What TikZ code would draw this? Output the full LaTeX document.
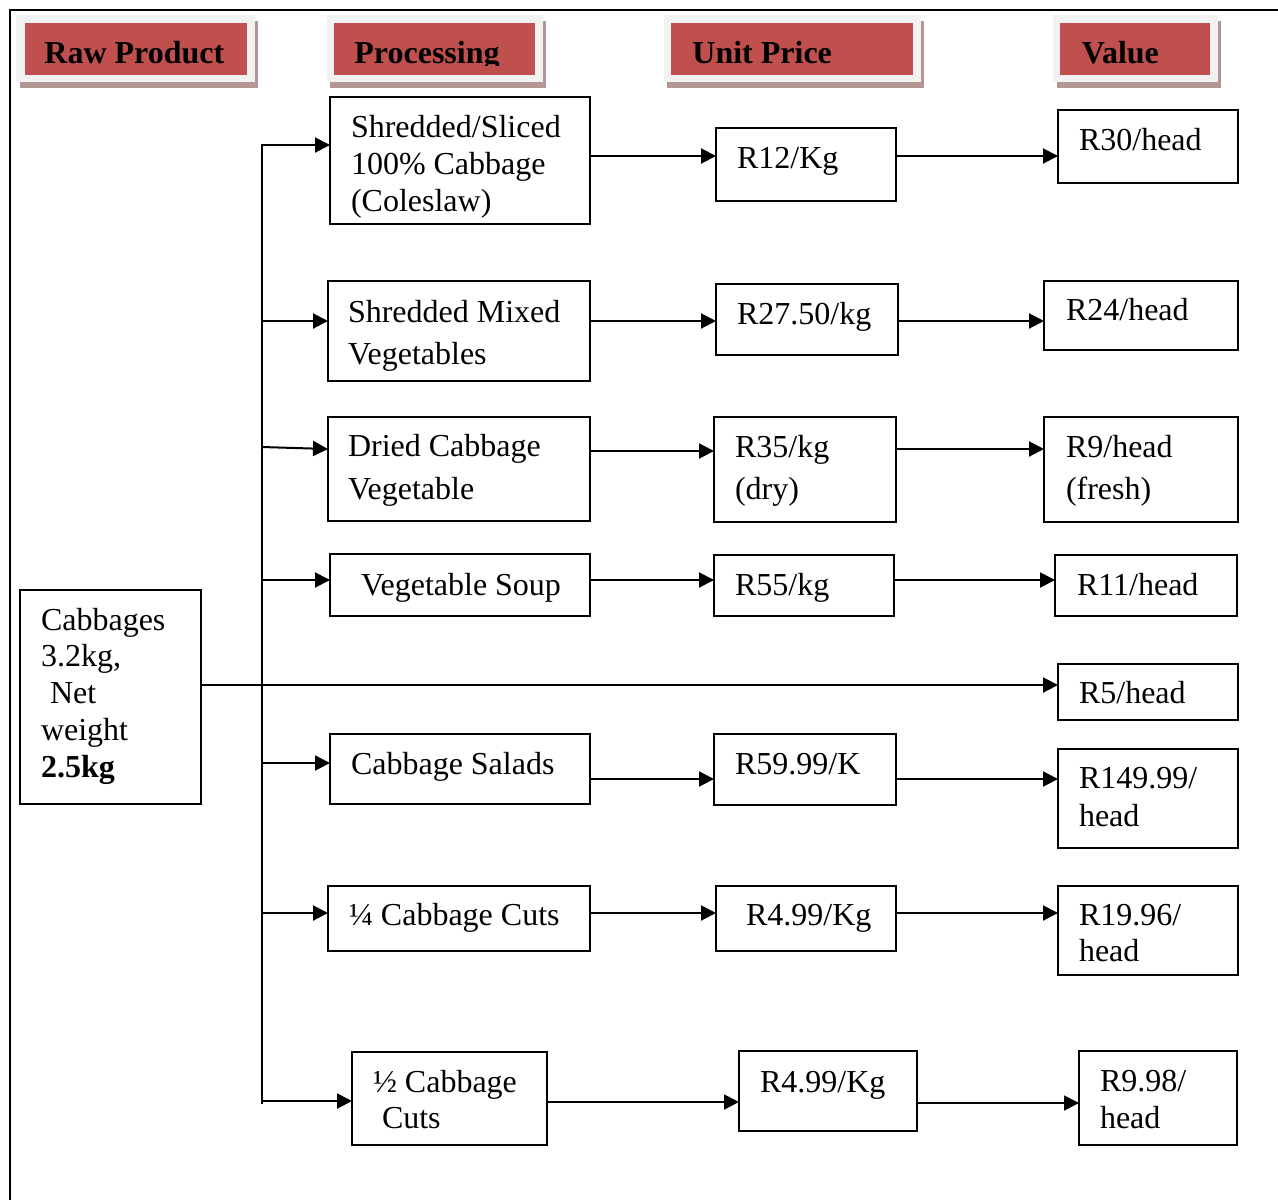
\documentclass[tikz,border=0pt]{standalone}
\usepackage{fontspec}
\setmainfont{Liberation Serif}
\usetikzlibrary{arrows.meta}
\definecolor{hred}{HTML}{C0504D}
\definecolor{hgray}{HTML}{F2F2F2}
\definecolor{hshadow}{RGB}{178,150,147}
% #1 style, #2 name, #3 x,y (px), #4 width px, #5 height px, #6 left pad px, #7 first baseline px, #8 baselineskip pt, #9 text
\newcommand\bx[9]{%
\node[#1] (#2) at (#3) {\parbox[t][\dimexpr #5pt/2\relax][t]{\dimexpr #4pt/2\relax}{\raggedright\leftskip=\dimexpr #6pt/2\relax\relax\setlength{\baselineskip}{#8pt}\rule{0pt}{\dimexpr #7pt/2\relax}#9}};}
\begin{document}
\begin{tikzpicture}[x=0.5pt,y=-0.5pt,
  boxst/.style={draw, line width=0.9pt, inner sep=0pt, outer sep=0pt, anchor=north west, font=\fontsize{16pt}{18.5pt}\selectfont},
  hredbox/.style={fill=hred, anchor=north west, inner sep=0pt, outer sep=0pt, minimum height=25.85pt},
  htext/.style={anchor=base west, inner sep=0pt, font=\bfseries\fontsize{16pt}{18pt}\selectfont},
  arr/.style={-{Triangle[length=7.5pt,width=7.5pt]}, line width=1pt, line join=miter}]
\useasboundingbox (0,0) rectangle (1278,1200);
\draw[line width=1.4pt] (1278,10) -- (10,10) -- (10,1200);

% headers
\fill[hshadow] (19.5,21) rectangle (258,88);
\fill[hgray] (16,15) rectangle (255,82);
\node[hredbox, minimum width=111pt] (h1) at (24.5,23.3) {};
\node[htext] (h1t) at (44,63.3) {Raw Product};

\fill[hshadow] (330,21) rectangle (546,88);
\fill[hgray] (326.5,15) rectangle (543,82);
\node[hredbox, minimum width=100.5pt] (h2) at (334,23.3) {};
\begin{scope}
\clip (h2.north west) rectangle (535,65.5);
\node[htext] (h2t) at (354,63.3) {Processing};
\end{scope}

\fill[hshadow] (667,21) rectangle (923.6,88);
\fill[hgray] (663.6,15) rectangle (920.7,82);
\node[hredbox, minimum width=121.2pt] (h3) at (671,23.3) {};
\node[htext] (h3t) at (692,63.3) {Unit Price};

\fill[hshadow] (1056.5,21) rectangle (1221,88);
\fill[hgray] (1053,15) rectangle (1217.7,82);
\node[hredbox, minimum width=75pt] (h4) at (1060.3,23.3) {};
\node[htext] (h4t) at (1081.4,63.3) {Value};

% raw product
\bx{boxst}{raw}{20,590}{181}{214}{21}{40}{18.4}{Cabbages\\3.2kg,\\\hspace*{4.5pt}Net\\weight\\\textbf{2.5kg}}

% processing
\bx{boxst}{p1}{330,97}{260}{127}{21}{40}{18.5}{Shredded/Sliced\\100\% Cabbage\\(Coleslaw)}
\bx{boxst}{p2}{328,281}{262}{100}{20}{41}{21}{Shredded Mixed\\Vegetables}
\bx{boxst}{p3}{328,417}{262}{104}{20}{39}{21.5}{Dried Cabbage\\Vegetable}
\bx{boxst}{p4}{330,554}{260}{62}{31}{41}{18.5}{Vegetable Soup}
\bx{boxst}{p5}{330,734}{260}{70}{21}{40}{18.5}{Cabbage Salads}
\bx{boxst}{p6}{328,886}{262}{65}{21}{39}{18.5}{¼ Cabbage Cuts}
\bx{boxst}{p7}{352,1052}{195}{93}{21}{40}{18}{½ Cabbage\\\hspace*{4.5pt}Cuts}

% unit price
\bx{boxst}{u1}{716,128}{180}{73}{21}{40}{18.5}{R12/Kg}
\bx{boxst}{u2}{716,284}{182}{71}{21}{40}{18.5}{R27.50/kg}
\bx{boxst}{u3}{714,417}{182}{105}{21}{40}{21}{R35/kg\\(dry)}
\bx{boxst}{u4}{714,555}{180}{61}{21}{40}{18.5}{R55/kg}
\bx{boxst}{u5}{714,734}{182}{71}{21}{40}{18.5}{R59.99/K}
\bx{boxst}{u6}{716,886}{180}{65}{30}{39}{18.5}{R4.99/Kg}
\bx{boxst}{u7}{739,1051}{178}{80}{21}{41}{18.5}{R4.99/Kg}

% value
\bx{boxst}{v1}{1058,110}{180}{73}{21}{40}{18.5}{R30/head}
\bx{boxst}{v2}{1044,281}{194}{69}{22}{39}{18.5}{R24/head}
\bx{boxst}{v3}{1044,417}{194}{105}{22}{40}{21}{R9/head\\(fresh)}
\bx{boxst}{v4}{1055,555}{182}{61}{22}{40}{18.5}{R11/head}
\bx{boxst}{v5}{1058,664}{180}{56}{21}{39}{18.5}{R5/head}
\bx{boxst}{v6}{1058,749}{180}{99}{21}{39}{19}{R149.99/\\head}
\bx{boxst}{v7}{1058,886}{180}{89}{21}{39}{18}{R19.96/\\head}
\bx{boxst}{v8}{1079,1051}{158}{94}{21}{40}{18.5}{R9.98/\\head}

% trunk coordinates
\coordinate (t1) at (262,145);
\coordinate (t2) at (262,321);
\coordinate (t3) at (262,447);
\coordinate (t4) at (262,580);
\coordinate (t5) at (262,763);
\coordinate (t6) at (262,913);
\coordinate (t7) at (262,1101);
\coordinate (tb) at (262,1104);
\coordinate (a3) at (0,449);
% row levels
\coordinate (r0) at (0,685);
\coordinate (r1) at (0,156);
\coordinate (r2) at (0,321);
\coordinate (r3a) at (0,451);
\coordinate (r3b) at (0,449);
\coordinate (r4) at (0,580);
\coordinate (r5) at (0,779);
\coordinate (r6) at (0,913);
\coordinate (r7a) at (0,1102);
\coordinate (r7b) at (0,1103);

% trunk and branches
\draw[arr] (tb) -- (t1) -- (t1 -| p1.west);
\draw[arr] (t2) -- (t2 -| p2.west);
\draw[arr] (t3) -- (p3.west |- a3);
\draw[arr] (t4) -- (t4 -| p4.west);
\draw[arr] (t5) -- (t5 -| p5.west);
\draw[arr] (t6) -- (t6 -| p6.west);
\draw[arr] (t7) -- (t7 -| p7.west);
\draw[arr] (raw.east |- r0) -- (v5.west |- r0);

% processing -> unit price
\draw[arr] (p1.east |- r1) -- (u1.west |- r1);
\draw[arr] (p2.east |- r2) -- (u2.west |- r2);
\draw[arr] (p3.east |- r3a) -- (u3.west |- r3a);
\draw[arr] (p4.east |- r4) -- (u4.west |- r4);
\draw[arr] (p5.east |- r5) -- (u5.west |- r5);
\draw[arr] (p6.east |- r6) -- (u6.west |- r6);
\draw[arr] (p7.east |- r7a) -- (u7.west |- r7a);

% unit price -> value
\draw[arr] (u1.east |- r1) -- (v1.west |- r1);
\draw[arr] (u2.east |- r2) -- (v2.west |- r2);
\draw[arr] (u3.east |- r3b) -- (v3.west |- r3b);
\draw[arr] (u4.east |- r4) -- (v4.west |- r4);
\draw[arr] (u5.east |- r5) -- (v6.west |- r5);
\draw[arr] (u6.east |- r6) -- (v7.west |- r6);
\draw[arr] (u7.east |- r7b) -- (v8.west |- r7b);
\end{tikzpicture}
\end{document}
